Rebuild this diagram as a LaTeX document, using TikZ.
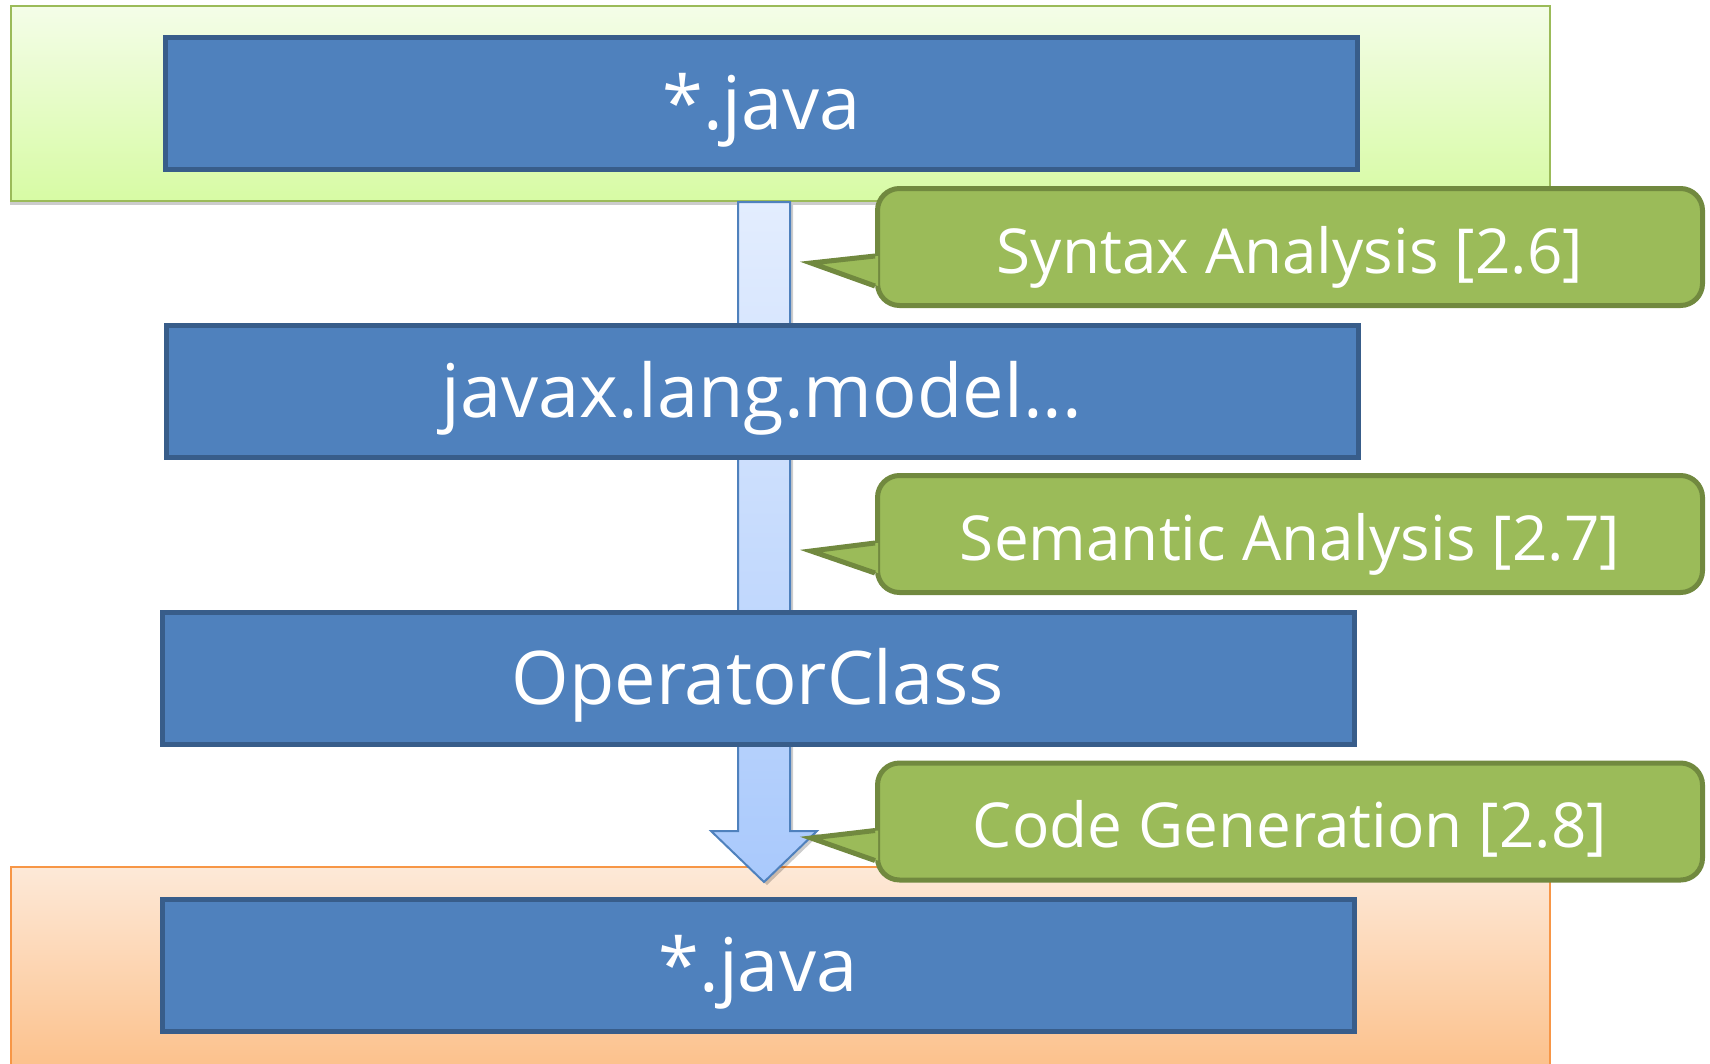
\documentclass[tikz,border=0pt]{standalone}
\usepackage{fontspec}
\setmainfont{Open Sans}
\usetikzlibrary{calc,shadows}
\definecolor{boxfill}{HTML}{4F81BD}
\definecolor{boxline}{HTML}{385D8A}
\definecolor{srctop}{HTML}{F4FDE8}
\definecolor{srcbot}{HTML}{D7FBA4}
\definecolor{srcedge}{HTML}{9BBB59}
\definecolor{outtop}{HTML}{FDE9D8}
\definecolor{outbot}{HTML}{FCBF88}
\definecolor{outedge}{HTML}{F79646}
\definecolor{flowtopc}{HTML}{E3EDFE}
\definecolor{flowbotc}{HTML}{A9C9FC}
\definecolor{flowedge}{HTML}{4F81BD}
\definecolor{notefill}{HTML}{9BBB59}
\definecolor{noteline}{HTML}{71893F}

\begin{document}
\begin{tikzpicture}[x=1pt, y=-1pt,
  panel/.style={line width=2.5pt, minimum width=1539pt, inner sep=0pt,
                drop shadow={shadow xshift=-1.5pt, shadow yshift=-4pt, opacity=0.2, fill=black}},
  stage/.style={draw=boxline, fill=boxfill, line width=5pt, minimum width=1192pt,
                minimum height=132pt, inner sep=0pt, text=white,
                text height=62pt, text depth=10pt,
                font=\fontsize{74}{80}\selectfont},
  note/.style={draw=noteline, fill=notefill, line width=5pt, rounded corners=22pt,
               minimum width=825pt, minimum height=117pt, inner sep=0pt, text=white,
               text height=56pt, text depth=4pt,
               font=\fontsize{62}{68}\selectfont},
  flow/.style={draw=flowedge, line width=2pt, top color=flowtopc, bottom color=flowbotc,
               drop shadow={shadow xshift=3pt, shadow yshift=-3pt, opacity=0.2, fill=black}},
]
\useasboundingbox (0,0) rectangle (1710,1063);

% source and output panels
\node[panel, draw=srcedge, top color=srctop, bottom color=srcbot, minimum height=195pt]
  (srcpanel) at (780.5, 103.5) {};
\node[panel, draw=outedge, top color=outtop, bottom color=outbot, minimum height=210pt]
  (outpanel) at (780.5, 972) {};

% compiler flow
\coordinate (flowtop) at (764, 202);
\coordinate (flowtip) at (764, 882);
\draw[flow] ($(flowtop)+(-26,0)$) -- ($(flowtop)+(26,0)$) -- ($(flowtip)+(26,-51)$)
  -- ($(flowtip)+(53,-51)$) -- (flowtip) -- ($(flowtip)+(-53,-51)$)
  -- ($(flowtip)+(-26,-51)$) -- cycle;

\node[stage] (src)   at (761.5, 103.5) {*.java};
\node[stage] (model) at (762, 391)     {javax.lang.model...};
\node[stage] (opcls) at (758, 678.5)   {OperatorClass};
\node[stage] (out)   at (758, 965.5)   {*.java};

% phase callouts
\node[note] (syntax)   at (1290, 247)   {Syntax Analysis [2.6]};
\node[note] (semantic) at (1290, 534)   {Semantic Analysis [2.7]};
\node[note] (codegen)  at (1290, 821.5) {Code Generation [2.8]};

\coordinate (syntaxtip)   at (811, 263);
\coordinate (semantictip) at (811, 551);
\coordinate (codegentip)  at (811, 838);

\foreach \n in {syntax, semantic, codegen} {
  \fill[notefill] ($(\n.west)+(3,9)$) -- (\n tip) -- ($(\n.west)+(3,39)$) -- cycle;
  \draw[noteline, line width=5pt, line join=miter]
    ($(\n.west)+(0,9)$) -- (\n tip) -- ($(\n.west)+(0,39)$);
}

\end{tikzpicture}
\end{document}
